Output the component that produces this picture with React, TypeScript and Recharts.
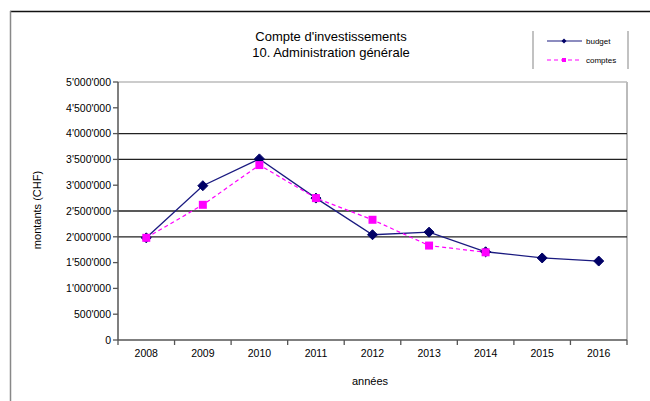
import React from "react";
import { LineChart, Line, XAxis, YAxis, ReferenceLine } from "recharts";

const years = [2008, 2009, 2010, 2011, 2012, 2013, 2014, 2015, 2016];
const budget = [1980000, 2990000, 3510000, 2750000, 2040000, 2090000, 1710000, 1590000, 1530000];
const comptes = [1980000, 2620000, 3390000, 2750000, 2330000, 1830000, 1700000, null, null];
const yTicks = [0, 500000, 1000000, 1500000, 2000000, 2500000, 3000000, 3500000, 4000000, 4500000, 5000000];
const gridValues = [2000000, 2500000, 3500000, 4000000];
const boundaries = [2007.5, 2008.5, 2009.5, 2010.5, 2011.5, 2012.5, 2013.5, 2014.5, 2015.5, 2016.5];

const data = years.map((y, i) => ({ year: y, budget: budget[i], comptes: comptes[i] }));
const xTicks = [...boundaries, ...years].sort((a, b) => a - b);

const FONT = "'Liberation Sans', Arial, sans-serif";

const fmt = (v: number) => String(v).replace(/\B(?=(\d{3})+(?!\d))/g, "'");

const Diamond = (props: any) => {
  const { cx, cy } = props;
  if (cx == null || cy == null || props.value == null) return <g />;
  const r = 5;
  return <polygon points={`${cx},${cy - r} ${cx + r},${cy} ${cx},${cy + r} ${cx - r},${cy}`} fill="#000066" stroke="#000066" />;
};

const Square = (props: any) => {
  const { cx, cy } = props;
  if (cx == null || cy == null || props.value == null) return <g />;
  const s = 4;
  return <rect x={cx - s} y={cy - s} width={2 * s} height={2 * s} fill="#ff00ff" />;
};

const XTick = (props: any) => {
  const { x, y, payload } = props;
  const v = payload.value;
  if (Number.isInteger(v)) {
    return (
      <text x={x} y={y + 12} textAnchor="middle" fontFamily={FONT} fontSize={10.5} fill="#000">
        {v}
      </text>
    );
  }
  return <line x1={x} y1={y - 5} x2={x} y2={y} stroke="#555" strokeWidth={1.3} />;
};

export default function App() {
  return (
    <div style={{ position: "absolute", left: 0, top: 0, width: 650, height: 401, background: "#fff" }}>
      <LineChart width={650} height={401} data={data} margin={{ top: 82, right: 23, bottom: 0, left: 0 }}>
        <XAxis
          dataKey="year"
          type="number"
          domain={[2007.5, 2016.5]}
          ticks={xTicks}
          tickLine={false}
          tickSize={5}
          tickMargin={0}
          axisLine={{ stroke: "#555", strokeWidth: 1.5 }}
          height={61}
          tick={XTick}
          interval={0}
          allowDecimals
        />
        <YAxis
          domain={[0, 5000000]}
          ticks={yTicks}
          width={118}
          tickFormatter={fmt}
          tick={{ fill: "#000", fontSize: 10.5, fontFamily: FONT }}
          tickSize={5}
          tickLine={{ stroke: "#555", strokeWidth: 1.3 }}
          axisLine={{ stroke: "#555", strokeWidth: 1.5 }}
          tickMargin={2}
          interval={0}
        />
        <ReferenceLine y={5000000} stroke="#999" strokeWidth={1} />
        <ReferenceLine x={2016.5} stroke="#bbb" strokeWidth={2} />
        {gridValues.map((g) => (
          <ReferenceLine key={g} y={g} stroke="#222" strokeWidth={1.3} />
        ))}
        <Line
          dataKey="budget"
          stroke="#1a1a80"
          strokeWidth={1.3}
          dot={Diamond}
          isAnimationActive={false}
        />
        <Line
          dataKey="comptes"
          stroke="#ff00ff"
          strokeWidth={1.2}
          strokeDasharray="4 3"
          dot={Square}
          isAnimationActive={false}
          connectNulls={false}
        />
      </LineChart>
      <svg width={650} height={401} style={{ position: "absolute", left: 0, top: 0, pointerEvents: "none" }}>
        <line x1={10} y1={11.5} x2={650} y2={11.5} stroke="#111" strokeWidth={1.5} />
        <line x1={10.5} y1={11} x2={10.5} y2={401} stroke="#888" strokeWidth={1.5} />
        <text x={331} y={41} textAnchor="middle" fontFamily={FONT} fontSize={13} fill="#000">Compte d'investissements</text>
        <text x={331} y={57} textAnchor="middle" fontFamily={FONT} fontSize={13} fill="#000">10. Administration générale</text>
        <line x1={533} y1={31} x2={533} y2={69} stroke="#999" strokeWidth={1.2} />
        <line x1={628} y1={31} x2={628} y2={69} stroke="#999" strokeWidth={1.2} />
        <line x1={547} y1={41} x2={582} y2={41} stroke="#1a1a80" strokeWidth={1.2} />
        <polygon points="564,38.5 566.5,41 564,43.5 561.5,41" fill="#000066" />
        <text x={586} y={44} fontFamily={FONT} fontSize={8} fill="#000">budget</text>
        <line x1={547} y1={60} x2={582} y2={60} stroke="#ff00ff" strokeWidth={1.2} strokeDasharray="4 3" />
        <rect x={562} y={58} width={4} height={4} fill="#ff00ff" />
        <text x={586} y={63} fontFamily={FONT} fontSize={8} fill="#000">comptes</text>
        <text x={41} y={210} transform="rotate(-90 41 210)" textAnchor="middle" fontFamily={FONT} fontSize={11} fill="#000">montants (CHF)</text>
        <text x={370} y={385} textAnchor="middle" fontFamily={FONT} fontSize={11} fill="#000">années</text>
      </svg>
    </div>
  );
}
